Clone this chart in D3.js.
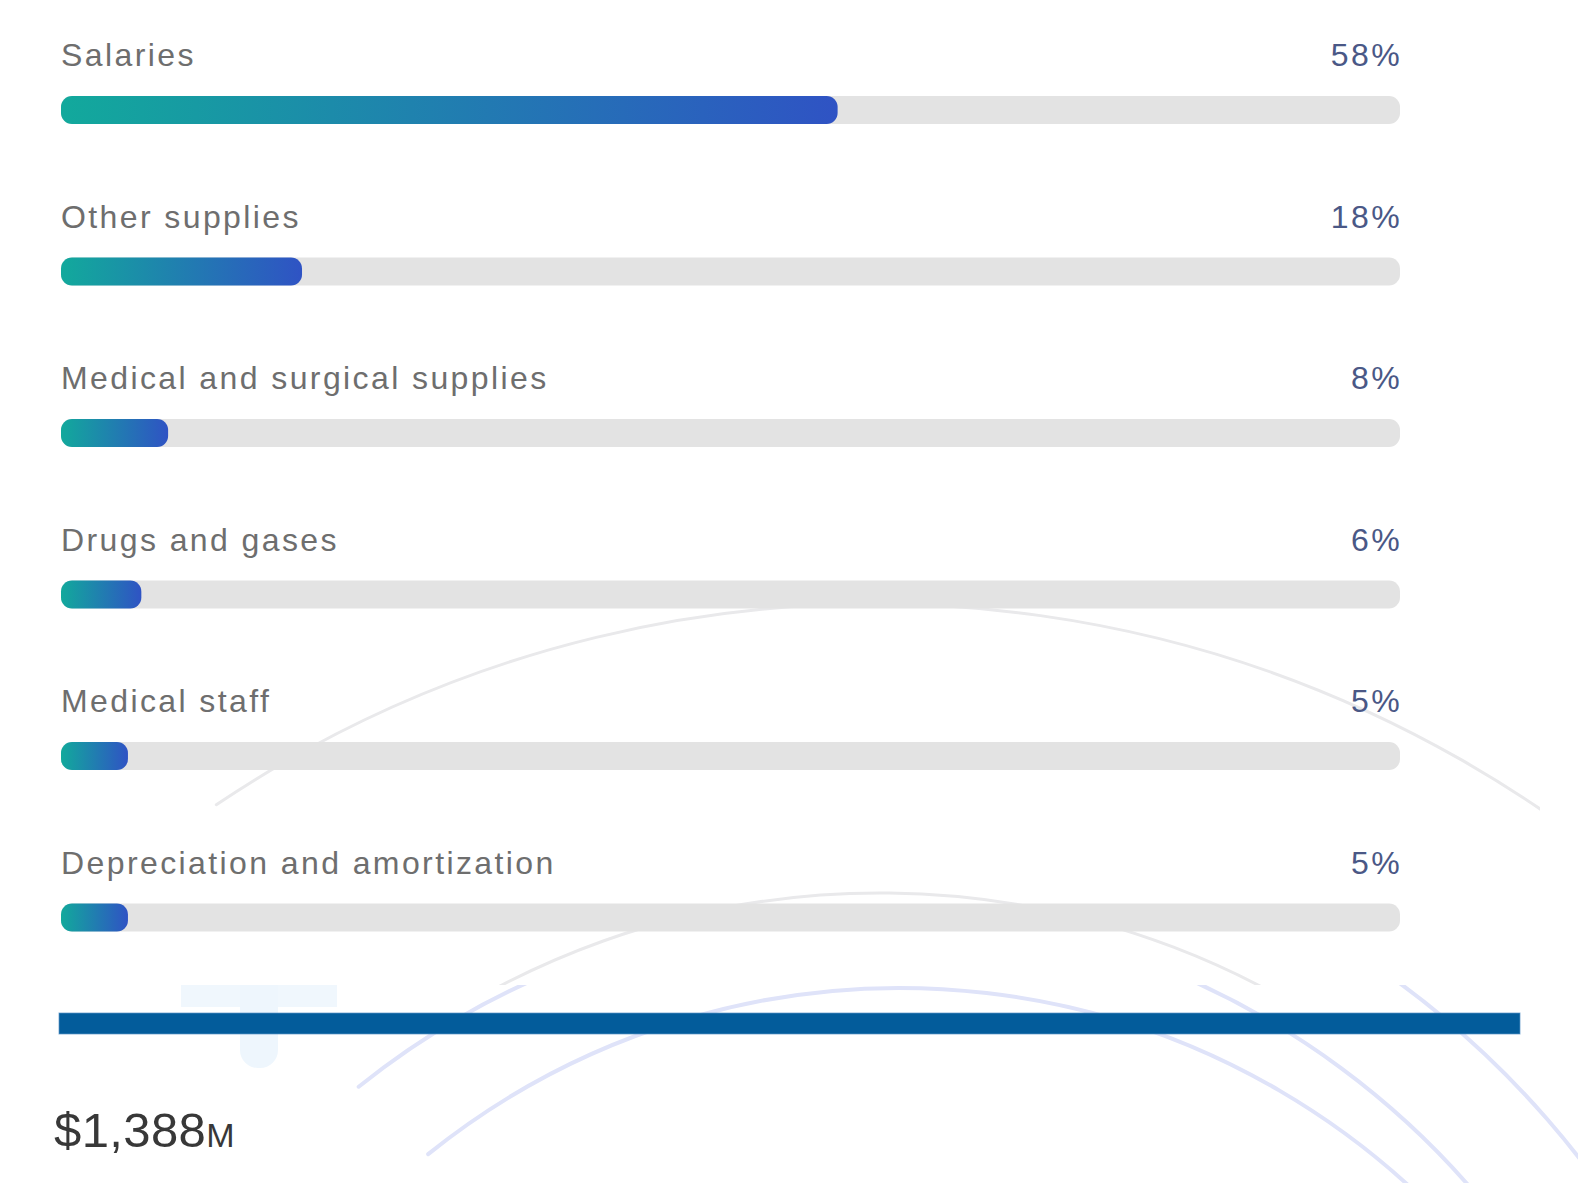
<!DOCTYPE html>
<html>
<head>
<meta charset="utf-8">
<title>Operating expenses</title>
<script src="https://cdn.jsdelivr.net/npm/d3@7"></script>
<style>
  html, body { margin: 0; padding: 0; background: #ffffff; }
  svg { display: block; }
</style>
</head>
<body>
<script>
// Expense categories and their share of total operating expenses (%)
const categories = [
  "Salaries",
  "Other supplies",
  "Medical and surgical supplies",
  "Drugs and gases",
  "Medical staff",
  "Depreciation and amortization"
];
const shares = [58, 18, 8, 6, 5, 5];
const shareTicks = [0, 100];
const totalExpenses = 1388;      // total, in millions of dollars
const totalUnit = "M";

const W = 1578, H = 1183;
const svg = d3.select("body").append("svg")
  .attr("width", W).attr("height", H)
  .attr("viewBox", `0 0 ${W} ${H}`);

const defs = svg.append("defs");

// teal -> blue gradient stretched over each filled bar
const grad = defs.append("linearGradient")
  .attr("id", "barGrad").attr("x1", "0").attr("x2", "1").attr("y1", "0").attr("y2", "0");
grad.append("stop").attr("offset", "0%").attr("stop-color", "#12a99c");
grad.append("stop").attr("offset", "100%").attr("stop-color", "#2f53c4");

// card area (top) and the open area under it
const panel = { x: 0, y: 0, w: 1540, h: 985 };
defs.append("clipPath").attr("id", "clipPanel")
  .append("rect").attr("x", panel.x).attr("y", panel.y).attr("width", panel.w).attr("height", panel.h);
defs.append("clipPath").attr("id", "clipBelow")
  .append("rect").attr("x", 0).attr("y", panel.h).attr("width", W).attr("height", H - panel.h);

// ---- decorative globe lines in the background ----
const rad = deg => deg * Math.PI / 180;
function ringPath(d) {
  const p = d3.path();
  p.arc(d.cx, d.cy, d.r, rad(d.a0), rad(d.a1), false);
  return p.toString();
}
const deco = svg.append("g").attr("class", "decoration");
const rings = [
  { cx: 900, cy: 1741, r: 753, a0: -128.8, a1: -38 },
  { cx: 862, cy: 1715, r: 805, a0: -128.7, a1: -30 },
  { cx: 862, cy: 1715, r: 908, a0: -62,    a1: -20 }
];
deco.selectAll("path.ring").data(rings).join("path")
  .attr("class", "ring")
  .attr("d", ringPath)
  .attr("clip-path", "url(#clipBelow)")
  .attr("fill", "none").attr("stroke", "#dfe3f9").attr("stroke-width", 4)
  .attr("stroke-linecap", "round");

// the same lines seen faintly through the card
const ghost = [
  { cx: 875, cy: 1785, r: 1181, a0: -123.9, a1: -40 },
  { cx: 880, cy: 1715, r: 822,  a0: -128.7, a1: -50 }
];
deco.selectAll("path.ghost").data(ghost).join("path")
  .attr("class", "ghost")
  .attr("d", ringPath)
  .attr("clip-path", "url(#clipPanel)")
  .attr("fill", "none").attr("stroke", "#e9e9eb").attr("stroke-width", 3)
  .attr("stroke-linecap", "round");

// faint pin-shaped mark below the card
deco.append("rect").attr("x", 181).attr("y", 985).attr("width", 156).attr("height", 22)
  .attr("fill", "#f0f7fd");
deco.append("rect").attr("x", 240).attr("y", 985).attr("width", 38).attr("height", 83)
  .attr("rx", 18).attr("fill", "#eef6fd");
deco.append("rect").attr("x", 240).attr("y", 985).attr("width", 38).attr("height", 40)
  .attr("fill", "#eef6fd");

// ---- bars ----
const x = d3.scaleLinear().domain(d3.extent(shareTicks)).range([61, 1400]);
const rowStep = 161.5;
const row = d3.scaleBand().domain(categories)
  .range([66, 66 + rowStep * categories.length]).paddingInner(0).paddingOuter(0);

const barH = 28, barOffset = 30, barR = 11;
const data = categories.map((c, i) => ({ category: c, share: shares[i] }));

const rows = svg.append("g").attr("class", "rows")
  .selectAll("g.row").data(data).join("g")
  .attr("class", "row")
  .attr("transform", d => `translate(0,${row(d.category)})`);

const labelFont = "'Liberation Sans', Arial, Helvetica, sans-serif";

rows.append("text")
  .attr("x", x(0))
  .attr("y", 0)
  .attr("font-family", labelFont)
  .attr("font-size", 32)
  .attr("letter-spacing", 2.4)
  .attr("fill", "#6e6e6e")
  .text(d => d.category);

rows.append("text")
  .attr("x", x(100) + 2)
  .attr("y", 0)
  .attr("text-anchor", "end")
  .attr("font-family", labelFont)
  .attr("font-size", 32)
  .attr("letter-spacing", 2.4)
  .attr("fill", "#4a5886")
  .text(d => d3.format("d")(d.share) + "%");

// background track
rows.append("rect")
  .attr("x", x(0))
  .attr("y", barOffset)
  .attr("width", x(100) - x(0))
  .attr("height", barH)
  .attr("rx", barR)
  .attr("fill", "#e3e3e3");

// filled share
rows.append("rect")
  .attr("x", x(0))
  .attr("y", barOffset)
  .attr("width", d => x(d.share) - x(0))
  .attr("height", barH)
  .attr("rx", barR)
  .attr("fill", "url(#barGrad)");

// ---- divider and total ----
svg.append("rect")
  .attr("x", 59).attr("y", 1013)
  .attr("width", 1520 - 59).attr("height", 21)
  .attr("fill", "#035c9b")
  .attr("stroke", "#5b95c6").attr("stroke-width", 1).attr("stroke-opacity", 0.7);

const total = svg.append("text")
  .attr("x", 54).attr("y", 1147)
  .attr("font-family", labelFont)
  .attr("fill", "#383838");
total.append("tspan")
  .attr("font-size", 49)
  .attr("letter-spacing", 0.4)
  .text(d3.format("$,")(totalExpenses));
total.append("tspan")
  .attr("font-size", 34)
  .attr("dx", 0)
  .text(totalUnit);
</script>
</body>
</html>
